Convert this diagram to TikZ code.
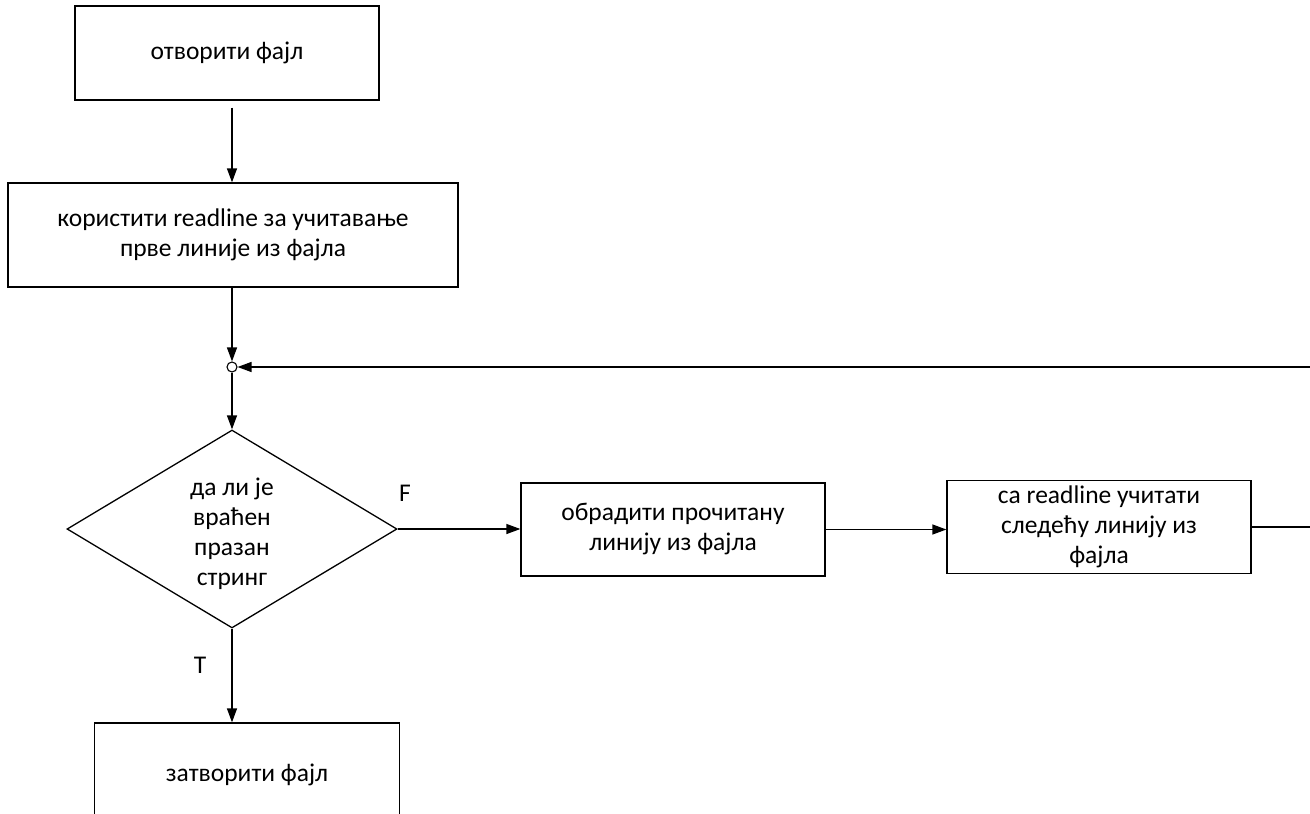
\documentclass[tikz,border=0pt]{standalone}
\usepackage{fontspec}
\setmainfont{Carlito}
\usetikzlibrary{shapes.geometric,arrows.meta}

\begin{document}
\begin{tikzpicture}[x=1pt,y=-1pt,
        font=\fontsize{25.5pt}{30pt}\selectfont,
        line width=1.3pt,
        >={Triangle[length=14pt,width=10pt]},
        block/.style={draw,rectangle,inner sep=0pt,align=center},
        decision/.style={draw,diamond,aspect=1.67,inner sep=0pt,align=center,
            minimum width=330pt,minimum height=198pt},
        junction/.style={draw,circle,inner sep=0pt,minimum size=10pt,fill=white,line width=1.1pt},
        lbl/.style={inner sep=0pt}]
        \useasboundingbox (0,0) rectangle (1310,814);

        \node[block,minimum width=304pt,minimum height=94pt] (open) at (227,53) {отворити фајл};
        \node[block,minimum width=450pt,minimum height=104pt] (first) at (233,235)
            {користити readline за учитавање\\прве линије из фајла};
        \node[junction] (junc) at (232,367) {};
        \node[decision] (empty) at (232,529) {\rule{0pt}{27pt}да ли је\\враћен\\празан\\стринг};
        \node[block,minimum width=304pt,minimum height=93pt] (proc) at (673,529.5)
            {обрадити прочитану\\линију из фајла};
        \node[block,minimum width=304pt,minimum height=93pt] (next) at (1099,527)
            {са readline учитати\\следећу линију из\\фајла};
        \node[block,minimum width=305pt,minimum height=104pt] (close) at (247,775) {затворити фајл};

        \node[lbl] (F) at (405,493) {F};
        \node[lbl] (T) at (200,665) {T};

        \coordinate (out) at (1310,527);
        \coordinate (back) at (1310,367);

        % main line
        \draw[->,shorten <=7pt] (open.south -| junc) -- (first.north -| junc);
        \draw[->] (first.south -| junc) -- (junc);
        \draw[->] (junc) -- (empty.north);
        \draw[->] (empty.south) -- (empty.south |- close.north);

        % loop
        \draw[->] (empty.east) -- (empty.east -| proc.west);
        \draw[->] (proc.east) -- (proc.east -| next.west);
        \draw (next.east) -- (out);
        \draw[->] (back) -- (junc);
\end{tikzpicture}
\end{document}
